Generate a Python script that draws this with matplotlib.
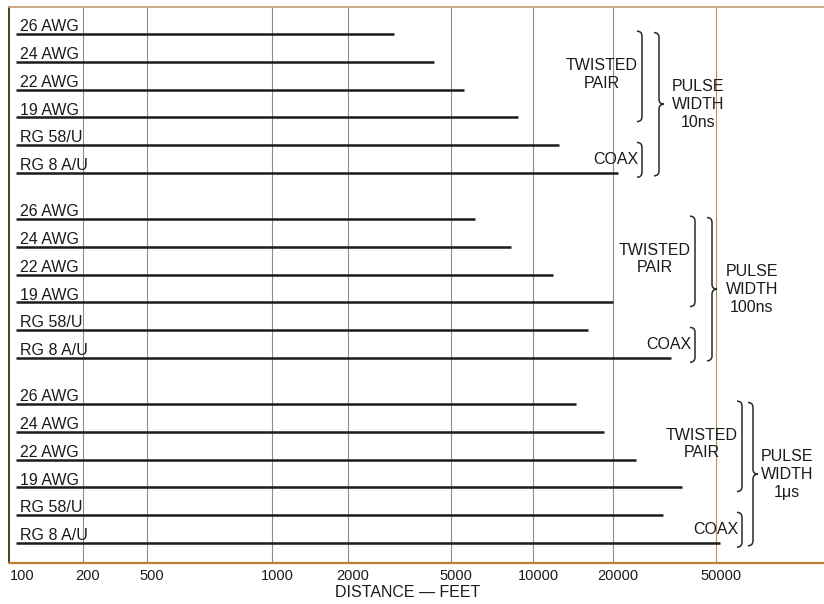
import numpy as np
import matplotlib.pyplot as plt
from matplotlib.path import Path
from matplotlib.patches import PathPatch
from matplotlib import transforms

plt.rcParams['font.family'] = ['Liberation Sans', 'DejaVu Sans']

# data (distance in feet where each cable is usable)
pulse_widths = ['10ns', '100ns', '1\u03bcs']
cables = ['26 AWG', '24 AWG', '22 AWG', '19 AWG', 'RG 58/U', 'RG 8 A/U']
dist_10ns = [3000, 4300, 5600, 8800, 12500, 21000]
dist_100ns = [6100, 8300, 11900, 20000, 16100, 33500]
dist_1us = [14500, 18500, 24600, 36900, 31200, 52000]
distances = [dist_10ns, dist_100ns, dist_1us]
tick_values = [100, 200, 500, 1000, 2000, 5000, 10000, 20000, 50000]
x_start = 107

# the printed axis is not a clean log scale below 1000: map ticks to their pixel spots
scale_vals = np.log10(tick_values + [130000])
scale_pos = np.array([9, 83, 147, 272, 348, 451, 533, 613, 716, 824], dtype=float)


def fwd(x):
    return np.interp(np.log10(np.clip(x, 1e-9, None)), scale_vals, scale_pos)


def inv(p):
    return 10 ** np.interp(p, scale_pos, scale_vals)


GAP = 0.65
fig = plt.figure(figsize=(8.24, 6.04), dpi=100)
ax = fig.add_axes([9 / 824, 41 / 604, 815 / 824, 556 / 604])
ax.set_xscale('function', functions=(fwd, inv))
ax.set_xlim(100, 130000)
ax.set_ylim(19.02, -0.97)

grid_cols = ['#8e8e8e'] * 7 + ['#a08a6c', '#b8925e']
for v, c in zip(tick_values[1:], grid_cols[1:]):
    ax.axvline(v, color=c, lw=0.8, zorder=1)

ink = '#1b1b1b'
for g, dist in enumerate(distances):
    for r, (name, d) in enumerate(zip(cables, dist)):
        y = g * (6 + GAP) + r
        ax.plot([x_start, d], [y, y], color=ink, lw=1.8, solid_capstyle='butt', zorder=3)
        ax.annotate(name, (x_start, y), xytext=(2.5, 2), textcoords='offset points',
                    ha='left', va='baseline', fontsize=11.5, color=ink, zorder=4)

# brackets and their captions: x in figure pixels, y in rows
trans = transforms.blended_transform_factory(
    transforms.Affine2D().scale(1.0 / 824, 1.0 / 604) + fig.transFigure, ax.transData)


def bracket(x, y0, y1, tip=False, w=5, h=0.18):
    verts = [(x - w, y0), (x, y0), (x, y0 + h)]
    codes = [Path.MOVETO, Path.CURVE3, Path.CURVE3]
    if tip:
        ym = (y0 + y1) / 2
        verts += [(x, ym - h), (x, ym), (x + w, ym), (x, ym), (x, ym + h)]
        codes += [Path.LINETO, Path.CURVE3, Path.CURVE3, Path.CURVE3, Path.CURVE3]
    verts += [(x, y1 - h), (x, y1), (x - w, y1)]
    codes += [Path.LINETO, Path.CURVE3, Path.CURVE3]
    ax.add_patch(PathPatch(Path(verts, codes), transform=trans, fill=False,
                           edgecolor='#2a2a2a', lw=1.1, clip_on=False, zorder=5))


inner_x = [642, 695, 742]
outer_x = [659, 712, 753]
caption_x = [698, 752, 787]
for g in range(3):
    top = g * (6 + GAP)
    bracket(inner_x[g], top - 0.1, top + 3.15)
    bracket(inner_x[g], top + 3.9, top + 5.15)
    bracket(outer_x[g], top - 0.05, top + 5.1, tip=True)
    ax.text(inner_x[g] - 4, top + 1.45, 'TWISTED\nPAIR', transform=trans, ha='right',
            va='center', multialignment='center', fontsize=11.5, color=ink, linespacing=1.2)
    ax.text(inner_x[g] - 4, top + 4.5, 'COAX', transform=trans, ha='right',
            va='center', fontsize=11.5, color=ink)
    ax.text(caption_x[g], top + 2.55, 'PULSE\nWIDTH\n' + pulse_widths[g], transform=trans,
            ha='center', va='center', fontsize=11.5, color=ink, linespacing=1.25)

ax.spines['right'].set_visible(False)
ax.spines['top'].set_color('#c9a27a')
ax.spines['top'].set_linewidth(1.3)
ax.spines['left'].set_color('#4d3c22')
ax.spines['left'].set_linewidth(1.4)
ax.spines['bottom'].set_color('#c27c3a')
ax.spines['bottom'].set_linewidth(1.6)

ax.set_xticks(tick_values)
ax.set_xticklabels([str(v) for v in tick_values])
ax.xaxis.set_minor_locator(plt.NullLocator())
ax.tick_params(axis='x', length=0, pad=4, labelsize=10.5, labelcolor=ink)
ax.set_yticks([])
for i, lab in enumerate(ax.get_xticklabels()):
    dx = 13 if i == 0 else 5
    shift = transforms.ScaledTranslation(dx / 100, 0, fig.dpi_scale_trans)
    lab.set_transform(lab.get_transform() + shift)
ax.set_xlabel('DISTANCE \u2014 FEET', fontsize=11.5, color=ink, labelpad=1)
ax.xaxis.set_label_coords(399 / 815, -0.04)

fig.savefig('out.png', dpi=100)
